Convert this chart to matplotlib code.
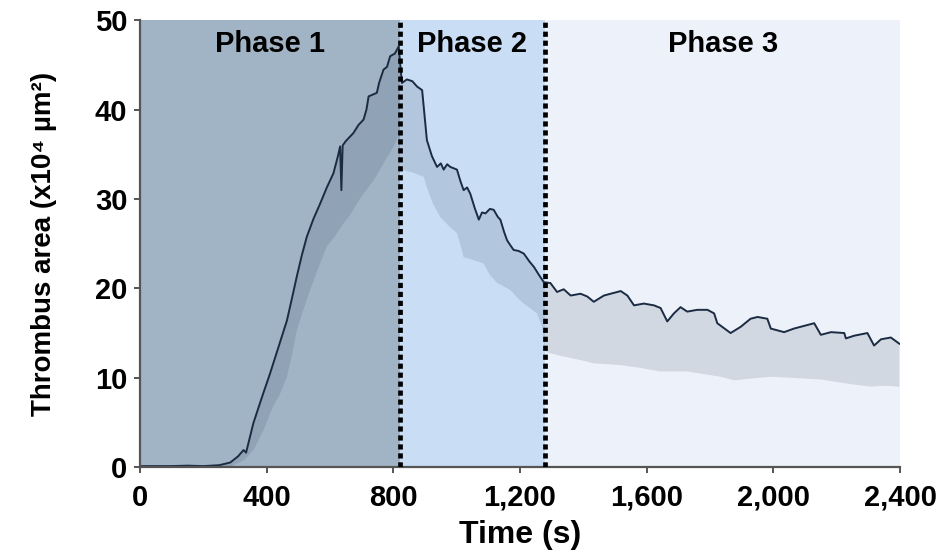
import numpy as np
import matplotlib
matplotlib.use("Agg")
import matplotlib.pyplot as plt
from matplotlib.ticker import FuncFormatter

# ---------------- data ----------------
mean_t = [0, 50, 100, 150, 200, 250, 285, 310, 327, 335, 358, 385, 411, 438, 464, 480, 495,
          511, 527, 548, 569, 590, 611, 625, 632, 636, 640, 650, 674, 690, 706, 715, 722,
          748, 755, 769, 780, 790, 805, 817, 827, 843, 860, 875, 891, 906, 922, 938, 950,
          959, 970, 980, 1001, 1012, 1022, 1033, 1043, 1057, 1070, 1080, 1091, 1105, 1117,
          1130, 1138, 1150, 1159, 1170, 1180, 1195, 1212, 1230, 1244, 1260, 1275,
          1296, 1317, 1338, 1360, 1391, 1412, 1433, 1465, 1486, 1518, 1539, 1560, 1591,
          1623, 1644, 1665, 1686, 1707, 1728, 1760, 1792, 1813, 1823, 1865, 1897, 1928,
          1950, 1981, 1992, 2034, 2065, 2097, 2129, 2150, 2182, 2224, 2229, 2255, 2297,
          2318, 2340, 2371, 2398]
mean_v = [0.1, 0.1, 0.1, 0.15, 0.1, 0.2, 0.5, 1.2, 1.9, 1.6, 4.9, 7.8, 10.5, 13.5, 16.4, 18.9, 21.3,
          23.7, 25.8, 27.8, 29.5, 31.3, 32.9, 34.8, 35.9, 31.0, 36.0, 36.5, 37.4, 38.3, 38.9, 40.0, 41.5,
          41.9, 43.0, 44.5, 44.8, 46.0, 46.3, 47.1, 43.0, 43.4, 43.2, 42.6, 42.2, 36.6, 34.8, 33.6, 34.0,
          33.3, 33.9, 33.6, 33.3, 32.0, 31.0, 31.3, 30.6, 29.0, 27.7, 28.5, 28.4, 28.9, 28.8,
          28.0, 27.7, 26.3, 25.4, 24.8, 24.3, 24.2, 23.9, 23.0, 22.4, 21.5, 20.7,
          20.6, 19.6, 19.9, 19.2, 19.4, 19.1, 18.5, 19.2, 19.4, 19.7, 19.2, 18.1, 18.3,
          18.1, 17.8, 16.3, 17.2, 17.9, 17.4, 17.6, 17.6, 17.2, 16.1, 15.0, 15.7, 16.6,
          16.8, 16.6, 15.5, 15.1, 15.5, 15.8, 16.1, 14.8, 15.1, 15.0, 14.4, 14.7, 15.0,
          13.6, 14.3, 14.5, 13.8]

low_t = [290, 330, 360, 390, 420, 440, 464, 480, 495, 515, 537, 560, 590, 615, 643, 665, 685,
         710, 738, 769, 801, 815, 822, 860, 896, 905, 925, 948, 975, 1001, 1015, 1022, 1050,
         1085, 1105, 1128, 1150, 1170, 1190, 1212, 1235, 1254, 1270, 1280, 1320, 1360, 1400,
         1433, 1480, 1518, 1580, 1644, 1728, 1780, 1834, 1876, 1930, 1992, 2050, 2097, 2150,
         2203, 2260, 2308, 2350, 2398]
low_v = [0.1, 0.8, 2.0, 4.1, 6.8, 8.0, 10.1, 12.5, 15.3, 17.5, 19.8, 22.0, 24.7, 25.8, 27.3, 28.3, 29.5,
         30.8, 32.1, 34.0, 35.9, 37.0, 33.3, 33.0, 32.5, 31.4, 29.5, 28.0, 27.0, 26.2, 24.5, 23.5, 23.2,
         22.8, 21.5, 20.6, 20.2, 19.8, 19.0, 18.3, 17.7, 17.2, 15.7, 12.9, 12.5, 12.2, 11.9,
         11.6, 11.5, 11.4, 11.1, 10.7, 10.7, 10.4, 10.1, 9.7, 9.9, 10.1, 10.0, 9.9, 9.8,
         9.5, 9.2, 9.0, 9.1, 9.0]

phase_edges = [0, 820, 1280, 2400]
phase_labels = ["Phase 1", "Phase 2", "Phase 3"]
phase_colors = ["#a1b4c6", "#c9ddf5", "#edf2fa"]
x_ticks = [0, 400, 800, 1200, 1600, 2000, 2400]
y_ticks = [0, 10, 20, 30, 40, 50]

# ---------------- plot ----------------
plt.rcParams['font.family'] = ['Liberation Sans', 'DejaVu Sans']
plt.rcParams['font.weight'] = 'bold'

fig = plt.figure(figsize=(9.47, 5.52), dpi=100)
ax = fig.add_axes([0.1478, 0.154, 0.8026, 0.8089])

for i in range(3):
    ax.axvspan(phase_edges[i], phase_edges[i + 1], color=phase_colors[i], lw=0, zorder=0)

poly_x = np.concatenate([mean_t, low_t[::-1]])
poly_y = np.concatenate([mean_v, low_v[::-1]])
ax.fill(poly_x, poly_y, color="#1e2c48", alpha=0.13, lw=0, zorder=1)

ax.plot(mean_t, mean_v, color="#1b2b42", lw=1.4, zorder=2)

for xe in phase_edges[1:3]:
    ax.axvline(xe, color="black", lw=3.4, linestyle=(0, (1.1, 0.8)), zorder=3)

for i, lab in enumerate(phase_labels):
    xc = (phase_edges[i] + phase_edges[i + 1]) / 2
    ax.text(xc, 47.4, lab, ha="center", va="center", fontsize=21, fontweight="bold", zorder=4)

ax.set_xlim(0, 2400)
ax.set_ylim(0, 50)
ax.set_xticks(x_ticks)
ax.set_yticks(y_ticks)
ax.xaxis.set_major_formatter(FuncFormatter(lambda v, p: f"{int(v):,}"))

for s in ["top", "right"]:
    ax.spines[s].set_visible(False)
for s in ["left", "bottom"]:
    ax.spines[s].set_color("#555555")
    ax.spines[s].set_linewidth(1.6)

ax.tick_params(axis="both", length=4, width=1.4, color="#555555", labelsize=21)
ax.tick_params(axis="x", pad=8)
ax.tick_params(axis="y", pad=5)
for lbl in ax.get_xticklabels() + ax.get_yticklabels():
    lbl.set_fontweight("bold")

ax.set_xlabel("Time (s)", fontsize=23, fontweight="bold", labelpad=6)
ax.set_ylabel("Thrombus area (x10\u2074 \u00b5m\u00b2)", fontsize=20, fontweight="bold", labelpad=27)

fig.savefig("out.png", dpi=100)
